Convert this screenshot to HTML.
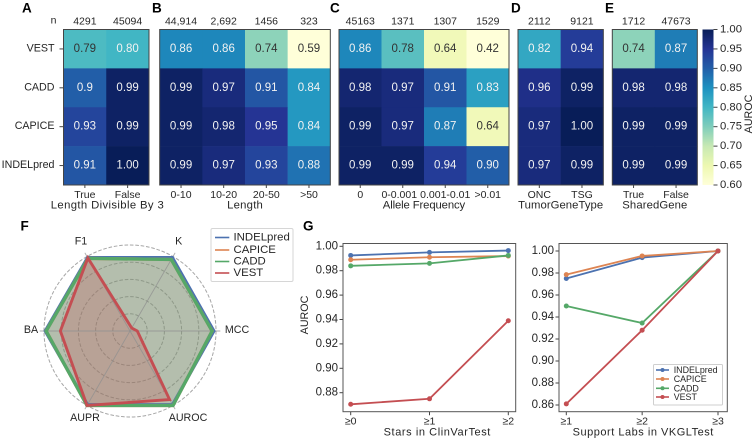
<!DOCTYPE html>
<html lang="en">
<head>
<meta charset="utf-8">
<title>AUROC comparison of INDEL predictors</title>
<style>
html,body{margin:0;padding:0;background:#fff;width:753px;height:438px;overflow:hidden}
svg{display:block;font-family:"Liberation Sans",Arial,sans-serif}
</style>
</head>
<body>
<svg id="fig" xmlns="http://www.w3.org/2000/svg" width="753" height="438" viewBox="0 0 753 438"></svg>
<script>
/* ---------- heatmap data ---------- */
const models = ["VEST", "CADD", "CAPICE", "INDELpred"];
const aCategories = ["True", "False"];
const aCounts = ["4291", "45094"];
const aValues = [["0.79", "0.80"], ["0.9", "0.99"], ["0.93", "0.99"], ["0.91", "1.00"]];
const bCategories = ["0-10", "10-20", "20-50", ">50"];
const bCounts = ["44,914", "2,692", "1456", "323"];
const bValues = [["0.86", "0.86", "0.74", "0.59"], ["0.99", "0.97", "0.91", "0.84"], ["0.99", "0.98", "0.95", "0.84"], ["0.99", "0.97", "0.93", "0.88"]];
const cCategories = ["0", "0-0.001", "0.001-0.01", ">0.01"];
const cCounts = ["45163", "1371", "1307", "1529"];
const cValues = [["0.86", "0.78", "0.64", "0.42"], ["0.98", "0.97", "0.91", "0.83"], ["0.99", "0.97", "0.87", "0.64"], ["0.99", "0.99", "0.94", "0.90"]];
const dCategories = ["ONC", "TSG"];
const dCounts = ["2112", "9121"];
const dValues = [["0.82", "0.94"], ["0.96", "0.99"], ["0.97", "1.00"], ["0.97", "0.99"]];
const eCategories = ["True", "False"];
const eCounts = ["1712", "47673"];
const eValues = [["0.74", "0.87"], ["0.98", "0.98"], ["0.99", "0.99"], ["0.99", "0.99"]];
const colorbarTicks = [1.00, 0.95, 0.90, 0.85, 0.80, 0.75, 0.70, 0.65, 0.60];

/* ---------- radar data (order follows radarAxes) ---------- */
const radarAxes = ["MCC", "K", "F1", "BA", "AUPR", "AUROC"];
const radarIndelpred = [0.975, 0.985, 0.985, 0.985, 0.99, 0.99];
const radarCapice = [0.955, 0.96, 0.975, 0.975, 1.0, 1.0];
const radarCadd = [0.955, 0.96, 0.975, 0.975, 1.0, 1.0];
const radarVest = [0.085, 0.04, 0.98, 0.81, 1.0, 0.92];

/* ---------- line chart data ---------- */
const seriesNames = ["INDELpred", "CAPICE", "CADD", "VEST"];
const starsCategories = ["≥0", "≥1", "≥2"];
const starsIndelpred = [0.9925, 0.995, 0.9965];
const starsCapice = [0.989, 0.991, 0.992];
const starsCadd = [0.984, 0.986, 0.9925];
const starsVest = [0.8705, 0.875, 0.939];
const starsTicks = [1.00, 0.98, 0.96, 0.94, 0.92, 0.90, 0.88];
const labsCategories = ["≥1", "≥2", "≥3"];
const labsIndelpred = [0.975, 0.994, 1.0];
const labsCapice = [0.9785, 0.9955, 1.0];
const labsCadd = [0.95, 0.9345, 1.0];
const labsVest = [0.861, 0.928, 1.0];
const labsTicks = [1.00, 0.98, 0.96, 0.94, 0.92, 0.90, 0.88, 0.86];

/* ---------- helpers ---------- */
const NS = "http://www.w3.org/2000/svg";
const fig = document.getElementById("fig");
const INK = "#262626";
const FRAME = "#444";
const COLORS = ["#4c72b0", "#dd8452", "#55a868", "#c44e52"];

function mk(tag, attrs, parent) {
  const el = document.createElementNS(NS, tag);
  for (const k in attrs) el.setAttribute(k, attrs[k]);
  (parent || fig).appendChild(el);
  return el;
}
function slug(s) {
  return String(s).toLowerCase().replace(/[^a-z0-9]+/g, "-").replace(/^-|-$/g, "");
}
function label(name, str, x, y, size, anchor, opts) {
  const o = opts || {};
  const el = mk("text", {x: x, y: y, "font-size": size, "text-anchor": anchor || "middle", fill: o.fill || INK, "dominant-baseline": "central"});
  if (o.bold) el.setAttribute("font-weight", "bold");
  if (o.width) { el.setAttribute("textLength", o.width); el.setAttribute("lengthAdjust", "spacing"); }
  if (o.rotate) el.setAttribute("transform", "rotate(" + o.rotate + " " + x + " " + y + ")");
  
  
  el.textContent = str;
  return el;
}
function stroke(name, x1, y1, x2, y2, color, w, dash) {
  const el = mk("line", {x1: x1, y1: y1, x2: x2, y2: y2, stroke: color, "stroke-width": w});
  if (dash) el.setAttribute("stroke-dasharray", dash);
  
  
  return el;
}
function frame(name, x, y, w, h, color) {
  const el = mk("rect", {x: x, y: y, width: w, height: h, fill: "none", stroke: color || FRAME, "stroke-width": 1});
  
  
  return el;
}

/* YlGnBu colour scale, 0.60 to 1.00 */
const ramp = [[255,255,217],[237,248,177],[199,233,180],[127,205,187],[65,182,196],[29,145,192],[34,94,168],[37,52,148],[8,29,88]];
function heatColor(v) {
  const t = Math.max(0, Math.min(1, (v - 0.6) / 0.4)) * (ramp.length - 1);
  const i = Math.min(ramp.length - 2, Math.floor(t));
  const f = t - i;
  const c = ramp[i].map((a, j) => Math.round(a + (ramp[i + 1][j] - a) * f));
  return "rgb(" + c.join(",") + ")";
}

/* ---------- heatmaps ---------- */
const HEAT_TOP = 29.5, HEAT_BOTTOM = 185;
function heatY(row) { return HEAT_TOP + (HEAT_BOTTOM - HEAT_TOP) * row / models.length; }

function drawHeatmap(key, x0, x1, categories, counts, values, title, titleWidth, showRows) {
  const colW = (x1 - x0) / categories.length;
  const rowH = (HEAT_BOTTOM - HEAT_TOP) / models.length;
  values.forEach((row, r) => {
    row.forEach((v, c) => {
      const num = parseFloat(v);
      const cell = mk("rect", {x: x0 + c * colW, y: heatY(r), width: colW + 0.3, height: rowH + 0.3, fill: heatColor(num)});
      
      
      label(key + "-value-" + slug(models[r]) + "-" + slug(categories[c]), v, x0 + (c + 0.5) * colW, heatY(r) + rowH / 2, 11.5, "middle",
        {fill: num < 0.795 ? "#333" : "#f2f2f2"});
    });
  });
  frame(key + "-frame", x0, HEAT_TOP, x1 - x0, HEAT_BOTTOM - HEAT_TOP);
  categories.forEach((cat, c) => {
    const cx = x0 + (c + 0.5) * colW;
    stroke(key + "-x-tick-" + slug(cat), cx, HEAT_BOTTOM, cx, HEAT_BOTTOM + 3, FRAME, 1);
    const shift = cat === "0-0.001" ? -3.5 : 0;
    label(key + "-x-label-" + slug(cat), cat, cx + shift, 195, 10.5, "middle");
    label(key + "-count-" + slug(cat), counts[c], cx, 21.5, 10.5, "middle");
  });
  label(key + "-axis-title", title, (x0 + x1) / 2 + (key === "heatmap-a" ? 1 : 0), 205.5, 11.3, "middle", {width: titleWidth});
  if (showRows) {
    models.forEach((m, r) => {
      const cy = heatY(r) + rowH / 2;
      stroke(key + "-y-tick-" + slug(m), x0 - 4, cy, x0, cy, FRAME, 1);
      label(key + "-y-label-" + slug(m), m, x0 - 9, cy - 0.5, 10.7, "end");
    });
  }
}

drawHeatmap("heatmap-a", 63.5, 149, aCategories, aCounts, aValues, "Length Divisible By 3", 113, true);
drawHeatmap("heatmap-b", 159.7, 330.3, bCategories, bCounts, bValues, "Length", 35.7, false);
drawHeatmap("heatmap-c", 339, 509, cCategories, cCounts, cValues, "Allele Frequency", 82.4, false);
drawHeatmap("heatmap-d", 518, 603.3, dCategories, dCounts, dValues, "TumorGeneType", 85, false);
drawHeatmap("heatmap-e", 612.3, 697.3, eCategories, eCounts, eValues, "SharedGene", 65, false);
label("n-label", "n", 53.5, 20.5, 10.5, "middle");

/* colour bar */
(function () {
  const defs = mk("defs", {});
  const grad = mk("linearGradient", {id: "cbar-gradient", x1: 0, y1: 1, x2: 0, y2: 0}, defs);
  for (let i = 0; i <= 40; i++) {
    mk("stop", {offset: (i / 40), "stop-color": heatColor(0.6 + 0.4 * i / 40)}, grad);
  }
  const x0 = 702.5, w = 11;
  const scale = v => HEAT_BOTTOM - (v - 0.6) / 0.4 * (HEAT_BOTTOM - HEAT_TOP);
  const bar = mk("rect", {x: x0, y: HEAT_TOP, width: w, height: HEAT_BOTTOM - HEAT_TOP, fill: "url(#cbar-gradient)"});
  
  
  colorbarTicks.forEach(t => {
    const y = scale(t);
    stroke("colorbar-tick-" + slug(t.toFixed(2)), x0 + w, y, x0 + w + 4, y, FRAME, 1);
    label("colorbar-tick-label-" + slug(t.toFixed(2)), t.toFixed(2), 720, y, 11.3, "start");
  });
  label("colorbar-title", "AUROC", 749, 114, 10.7, "middle", {rotate: -90});
})();

/* panel letters */
const panelLetters = ["A", "B", "C", "D", "E", "F", "G"];
const panelLetterX = [22, 152, 330, 511, 605, 20.5, 303];
const panelLetterY = [8, 8, 8, 8, 8, 226, 226];
panelLetters.forEach((p, i) => {
  label("panel-letter-" + p.toLowerCase(), p, panelLetterX[i], panelLetterY[i], 13.5, "start", {bold: true, fill: "#000"});
});

/* ---------- radar ---------- */
(function () {
  const cx = 130, cy = 331, R = 86;
  const pt = (i, v) => {
    const a = i * Math.PI / 3;
    return [cx + R * v * Math.cos(a), cy - R * v * Math.sin(a)];
  };
  [0.2, 0.4, 0.6, 0.8, 1.0].forEach(f => {
    const ring = mk("circle", {cx: cx, cy: cy, r: R * f, fill: "none", stroke: "#a6a6a6", "stroke-width": 1, "stroke-dasharray": "3.6 1.8"});
    
    
  });
  const allSeries = [radarIndelpred, radarCapice, radarCadd, radarVest];
  allSeries.forEach((vals, s) => {
    const pts = vals.map((v, i) => pt(i, v).join(",")).join(" ");
    const area = mk("polygon", {points: pts, fill: COLORS[s], "fill-opacity": 0.25, stroke: "none"});
    
    
  });
  radarAxes.forEach((name, i) => {
    const p = pt(i, 1.05);
    stroke("radar-spoke-" + slug(name), cx, cy, p[0], p[1], "#8f8f8f", 0.9).setAttribute("stroke-opacity", "0.75");
  });
  allSeries.forEach((vals, s) => {
    const pts = vals.map((v, i) => pt(i, v).join(",")).join(" ");
    const line = mk("polygon", {points: pts, fill: "none", stroke: COLORS[s], "stroke-width": s === 3 ? 2.9 : 3.3, "stroke-linejoin": "miter"});
    
    
  });
  const labelX = [237, 178.7, 81, 31, 85, 188];
  const labelY = [330, 241.7, 241.7, 330, 418, 418];
  radarAxes.forEach((name, i) => {
    label("radar-axis-label-" + slug(name), name, labelX[i], labelY[i], 10.7, "middle");
  });

  const box = mk("rect", {x: 211, y: 228.5, width: 82, height: 53, rx: 1.5, fill: "#fff", "fill-opacity": 0.9, stroke: "#d6d6d6", "stroke-width": 1});
  
  
  const ys = [237.5, 250, 261.5, 273];
  seriesNames.forEach((n, s) => {
    stroke("radar-legend-swatch-" + slug(n), 215, ys[s], 229.3, ys[s], COLORS[s], 1.6);
    label("radar-legend-label-" + slug(n), n, 233.5, ys[s], 11.4, "start");
  });
})();

/* ---------- line charts ---------- */
function drawLines(key, box, xPix, yAt1, pxPerUnit, categories, ticks, series, title, titleWidth, titleX, yTitle) {
  const xScale = i => xPix[0] + (xPix[1] - xPix[0]) * i / (categories.length - 1);
  const yScale = v => yAt1 + (1 - v) * pxPerUnit;
  ticks.forEach(t => {
    const y = yScale(t);
    stroke(key + "-y-tick-" + slug(t.toFixed(2)), box.x - 3.5, y, box.x, y, FRAME, 1);
    label(key + "-y-tick-label-" + slug(t.toFixed(2)), t.toFixed(2), box.x - 5, y, 11.5, "end");
  });
  categories.forEach((c, i) => {
    const x = xScale(i);
    stroke(key + "-x-tick-" + (i + 1), x, box.y + box.h, x, box.y + box.h + 3.5, FRAME, 1);
    label(key + "-x-tick-label-" + (i + 1), c, x, 421.5, 10.5, "middle");
  });
  series.forEach((vals, s) => {
    const pts = vals.map((v, i) => xScale(i) + "," + yScale(v)).join(" ");
    const line = mk("polyline", {points: pts, fill: "none", stroke: COLORS[s], "stroke-width": 1.8});
    
    
    vals.forEach((v, i) => {
      const dot = mk("circle", {cx: xScale(i), cy: yScale(v), r: 2.5, fill: COLORS[s]});
      
      
    });
  });
  frame(key + "-frame", box.x, box.y, box.w, box.h, "#555");
  label(key + "-x-title", title, titleX, 432.5, 11, "middle", {width: titleWidth});
  if (yTitle) label(key + "-y-title", yTitle, 305, 315, 10.7, "middle", {rotate: -90});
}

drawLines("stars-chart", {x: 343, y: 243.5, w: 172.7, h: 168.2}, [350.7, 508.3], 246.3, 1220,
  starsCategories, starsTicks, [starsIndelpred, starsCapice, starsCadd, starsVest],
  "Stars in ClinVarTest", 106.7, 437, "AUROC");
drawLines("labs-chart", {x: 559, y: 243.5, w: 168.3, h: 168.2}, [566.3, 718], 251, 1100,
  labsCategories, labsTicks, [labsIndelpred, labsCapice, labsCadd, labsVest],
  "Support Labs in VKGLTest", 140.7, 643, null);

/* line chart legend */
(function () {
  const box = mk("rect", {x: 653.5, y: 364.5, width: 69, height: 40.5, rx: 1, fill: "#fff", stroke: "#cfcfcf", "stroke-width": 1});
  
  
  const ys = [370, 379, 388.3, 397];
  seriesNames.forEach((n, s) => {
    stroke("labs-legend-swatch-" + slug(n), 656, ys[s], 669, ys[s], COLORS[s], 1.6);
    const dot = mk("circle", {cx: 662.5, cy: ys[s], r: 2, fill: COLORS[s]});
    
    
    label("labs-legend-label-" + slug(n), n, 673.7, ys[s], 8.9, "start");
  });
})();
</script>
</body>
</html>
